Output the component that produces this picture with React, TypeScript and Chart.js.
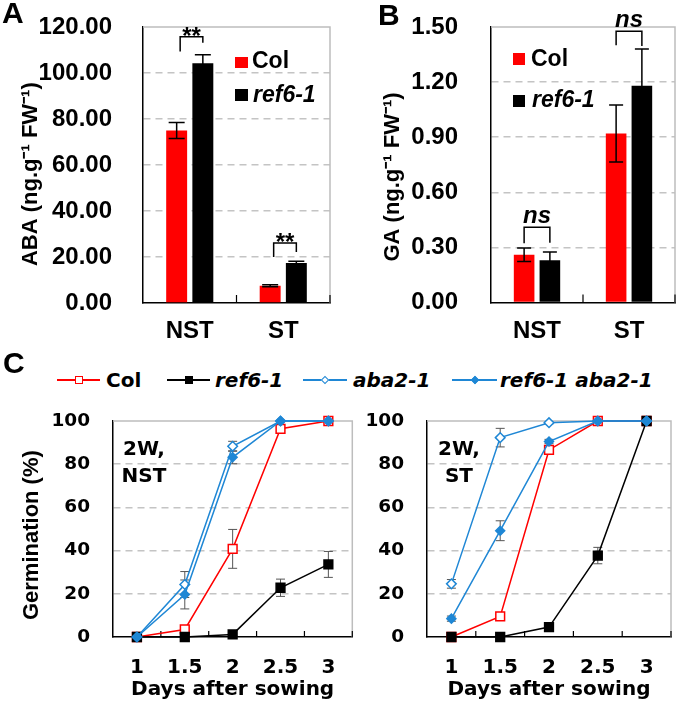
import React, { useEffect, useRef } from 'react';
import { Chart, registerables } from 'chart.js';

Chart.register(...registerables);

const SANS = '"Liberation Sans", Arial, Helvetica, sans-serif';
const WIDE = '"DejaVu Sans", Verdana, sans-serif';
const RED = '#ff0000';
const BLACK = '#000000';
const BLUE = '#1f87d5';
const GRID = '#c4c4c4';
const FRAME = '#bdbdbd';
const CLEAR = 'rgba(0,0,0,0)';

// ---------- Panel A : ABA ----------
const hormoneCategories = ['NST', 'ST'];
const abaCol = [75.0, 7.5];
const abaColErr = [3.5, 0.4];
const abaRef6 = [104.2, 17.4];
const abaRef6Err = [3.7, 0.7];
const abaMax = 120;
const abaStep = 20;
// significance brackets: category, bracket top, left leg end, right leg end (data units)
const abaBracketCat = [0, 1];
const abaBracketTop = [115.8, 26.1];
const abaBracketLeft = [109.3, 20.0];
const abaBracketRight = [113.2, 22.2];
const abaBracketLabel = ['**', '**'];

// ---------- Panel B : GA ----------
const gaCol = [0.26, 0.92];
const gaColErr = [0.037, 0.155];
const gaRef6 = [0.23, 1.18];
const gaRef6Err = [0.045, 0.2];
const gaMax = 1.5;
const gaStep = 0.3;
const gaBracketCat = [0, 1];
const gaBracketTop = [0.41, 1.477];
const gaBracketLeft = [0.323, 1.4];
const gaBracketRight = [0.325, 1.396];
const gaBracketLabel = ['ns', 'ns'];

// ---------- Panel C : germination ----------
const days = ['1', '1.5', '2', '2.5', '3'];
// 2W, NST
const nstCol = [0, 3.5, 40.8, 96.4, 100];
const nstColErr = [0, 1, 9, 2, 0];
const nstRef6 = [0, 0, 1.2, 22.8, 33.6];
const nstRef6Err = [0, 0, 0.5, 4, 6];
const nstAba2 = [0, 24.3, 88.3, 100, 100];
const nstAba2Err = [0, 6, 2.3, 0, 0];
const nstDouble = [0, 19.7, 83.2, 100, 100];
const nstDoubleErr = [0, 6.7, 3, 0, 0];
// 2W, ST
const stCol = [0, 9.5, 86.6, 100, 100];
const stColErr = [0, 1, 1, 0, 0];
const stRef6 = [0, 0, 4.6, 37.7, 100];
const stRef6Err = [0, 0, 0.5, 3.8, 0];
const stAba2 = [24.6, 92.3, 99.2, 100, 100];
const stAba2Err = [2, 4.3, 0.5, 0, 0];
const stDouble = [8.5, 49.2, 90.5, 100, 100];
const stDoubleErr = [1.2, 4.6, 1, 0, 0];
const germMax = 100;
const germStep = 20;

// ---------- plugins ----------
function drawErrors(chart: any) {
  const ctx = chart.ctx;
  const y = chart.scales.y;
  chart.data.datasets.forEach((ds: any, di: number) => {
    const errs = ds.errors;
    if (!errs) return;
    const meta = chart.getDatasetMeta(di);
    ctx.save();
    ctx.strokeStyle = ds.errColor || BLACK;
    ctx.lineWidth = ds.errWidth || 1.5;
    ctx.setLineDash([]);
    meta.data.forEach((el: any, i: number) => {
      const e = errs[i];
      if (!e) return;
      const v = ds.data[i];
      const x = el.x;
      const y1 = y.getPixelForValue(v + e);
      const y2 = y.getPixelForValue(v - e);
      const c = (ds.errCap || 10) / 2;
      ctx.beginPath();
      ctx.moveTo(x, y1);
      ctx.lineTo(x, y2);
      ctx.moveTo(x - c, y1);
      ctx.lineTo(x + c, y1);
      ctx.moveTo(x - c, y2);
      ctx.lineTo(x + c, y2);
      ctx.stroke();
    });
    ctx.restore();
  });
}

const errorBarPlugin = {
  id: 'errorBars',
  beforeDatasetsDraw(chart: any, _a: any, opts: any) {
    if (opts && opts.layer === 'before') drawErrors(chart);
  },
  afterDatasetsDraw(chart: any, _a: any, opts: any) {
    if (!opts || opts.layer !== 'before') drawErrors(chart);
  },
};

const bracketPlugin = {
  id: 'brackets',
  afterDatasetsDraw(chart: any, _a: any, opts: any) {
    if (!opts || !opts.cats) return;
    const ctx = chart.ctx;
    const y = chart.scales.y;
    const m0 = chart.getDatasetMeta(0);
    const m1 = chart.getDatasetMeta(1);
    opts.cats.forEach((cat: number, k: number) => {
      const xl = m0.data[cat].x + opts.leftShift;
      const xr = m1.data[cat].x;
      const yt = y.getPixelForValue(opts.tops[k]);
      ctx.save();
      ctx.strokeStyle = BLACK;
      ctx.lineWidth = 1.5;
      ctx.setLineDash([]);
      ctx.beginPath();
      ctx.moveTo(xl, y.getPixelForValue(opts.lefts[k]));
      ctx.lineTo(xl, yt);
      ctx.lineTo(xr, yt);
      ctx.lineTo(xr, y.getPixelForValue(opts.rights[k]));
      ctx.stroke();
      ctx.font = opts.font;
      ctx.textAlign = 'center';
      ctx.textBaseline = 'alphabetic';
      ctx.fillStyle = BLACK;
      ctx.fillText(opts.labels[k], (xl + xr) / 2, yt + opts.textOffset);
      ctx.restore();
    });
  },
};

const framePlugin = {
  id: 'frame',
  beforeDatasetsDraw(chart: any, _a: any, opts: any) {
    const { left, right, top, bottom } = chart.chartArea;
    const ctx = chart.ctx;
    ctx.save();
    ctx.setLineDash([]);
    ctx.strokeStyle = FRAME;
    ctx.lineWidth = 1.5;
    ctx.beginPath();
    ctx.moveTo(left, top);
    ctx.lineTo(right, top);
    ctx.lineTo(right, bottom);
    ctx.stroke();
    const xs = chart.scales.x;
    const n = chart.data.labels.length;
    ctx.strokeStyle = BLACK;
    ctx.lineWidth = 1.2;
    ctx.beginPath();
    for (let i = 1; i <= n; i++) {
      const px = xs.getPixelForValue(i - 0.5);
      ctx.moveTo(px, bottom);
      ctx.lineTo(px, bottom - (opts.tick || 7));
    }
    ctx.stroke();
    ctx.restore();
  },
};

// ---------- configs ----------
function barConfig(o: any) {
  return {
    type: 'bar',
    data: {
      labels: hormoneCategories,
      datasets: [
        {
          label: 'Col', data: o.col, backgroundColor: RED, errors: o.colErr,
          errCap: o.cap, errWidth: 1.5, errColor: BLACK,
          categoryPercentage: 0.56, barPercentage: 0.8,
        },
        {
          label: 'ref6-1', data: o.ref, backgroundColor: BLACK, errors: o.refErr,
          errCap: o.cap, errWidth: 1.5, errColor: BLACK,
          categoryPercentage: 0.56, barPercentage: 0.8,
        },
      ],
    },
    options: {
      responsive: false,
      animation: false,
      devicePixelRatio: 1,
      events: [],
      layout: { padding: { top: 27, right: o.padRight, left: 0, bottom: 0 } },
      plugins: {
        legend: { display: false },
        tooltip: { enabled: false },
        brackets: o.brackets,
        frame: { tick: 8 },
        errorBars: { layer: 'after' },
      },
      scales: {
        x: {
          grid: { display: false, drawTicks: false },
          border: { display: true, color: BLACK, width: 1.5 },
          ticks: { color: BLACK, font: { family: SANS, size: 24, weight: 'bold' }, padding: 14 },
          afterFit: (s: any) => { s.height = o.xh; },
        },
        y: {
          min: 0,
          max: o.max,
          ticks: {
            stepSize: o.step,
            callback: (v: any) => Number(v).toFixed(2),
            color: BLACK,
            font: { family: SANS, size: 24, weight: 'bold' },
            padding: 3,
          },
          grid: {
            drawTicks: true,
            tickLength: o.tickPad - 3,
            tickColor: CLEAR,
            lineWidth: 1.5,
            color: (c: any) => (c.tick && (Math.abs(c.tick.value) < 1e-6 || Math.abs(c.tick.value - o.max) < 1e-6) ? CLEAR : GRID),
          },
          border: { display: true, color: BLACK, width: 1.5, dash: [7, 5] },
          title: {
            display: true, text: o.title, color: BLACK,
            font: { family: SANS, size: 22, weight: 'bold' },
            padding: { top: o.titlePad, bottom: 0 },
          },
          afterFit: (s: any) => { s.width = o.yw; },
        },
      },
    },
    plugins: [errorBarPlugin, bracketPlugin, framePlugin],
  };
}

function lineConfig(o: any) {
  const mk = (label: string, data: number[], err: number[], color: string, fill: string, style: string, radius: number, order: number) => ({
    label, data, errors: err, order,
    borderColor: color, backgroundColor: fill,
    pointBackgroundColor: fill, pointBorderColor: color,
    pointStyle: style, pointRadius: radius, pointBorderWidth: 1.5,
    borderWidth: 1.5, tension: 0, clip: false,
    errCap: 9, errWidth: 1, errColor: '#555555',
  });
  return {
    type: 'line',
    data: {
      labels: days,
      datasets: [
        mk('Col', o.col, o.colErr, RED, '#ffffff', 'rect', 6.2, 4),
        mk('ref6-1', o.ref, o.refErr, BLACK, BLACK, 'rect', 6.2, 3),
        mk('aba2-1', o.aba, o.abaErr, BLUE, '#ffffff', 'rectRot', 4.8, 2),
        mk('ref6-1 aba2-1', o.dbl, o.dblErr, BLUE, BLUE, 'rectRot', 4.5, 1),
      ],
    },
    options: {
      responsive: false,
      animation: false,
      devicePixelRatio: 1,
      events: [],
      layout: { padding: { top: 26, right: o.padRight, left: 0, bottom: 0 } },
      plugins: {
        legend: { display: false },
        tooltip: { enabled: false },
        frame: { tick: 6 },
        errorBars: { layer: 'before' },
      },
      scales: {
        x: {
          offset: true,
          grid: { display: false, drawTicks: false, offset: true },
          border: { display: true, color: BLACK, width: 1.5 },
          ticks: { color: BLACK, font: { family: WIDE, size: 20, weight: 'bold' }, padding: 19 },
          title: {
            display: true, text: 'Days after sowing', color: BLACK,
            font: { family: WIDE, size: 20, weight: 'bold' },
            padding: { top: 0, bottom: 5 },
          },
          afterFit: (s: any) => { s.height = 70; },
        },
        y: {
          min: 0,
          max: germMax,
          ticks: {
            stepSize: germStep,
            color: BLACK,
            font: { family: WIDE, size: 18.5, weight: 'bold' },
            padding: 3,
          },
          grid: {
            drawTicks: true,
            tickLength: 20,
            tickColor: CLEAR,
            lineWidth: 1.5,
            color: (c: any) => (c.tick && (c.tick.value === 0 || c.tick.value === germMax) ? CLEAR : GRID),
          },
          border: { display: true, color: BLACK, width: 1.5, dash: [7, 5] },
          title: {
            display: o.showTitle, text: 'Germination (%)  ', color: BLACK,
            font: { family: SANS, size: 22, weight: 'bold' },
            padding: { top: 18.5, bottom: 0 },
          },
          afterFit: (s: any) => { s.width = o.yw; },
        },
      },
    },
    plugins: [errorBarPlugin, framePlugin],
  };
}

function ChartCanvas({ left, top, width, height, make }: any) {
  const ref = useRef<HTMLCanvasElement | null>(null);
  useEffect(() => {
    const chart = new Chart(ref.current as HTMLCanvasElement, make() as any);
    return () => chart.destroy();
  }, []);
  return (
    <canvas
      ref={ref}
      width={width}
      height={height}
      style={{ position: 'absolute', left, top, width, height }}
    />
  );
}

const textStyle = (left: number, baseline: number, size: number, family: string, extra: any = {}) => ({
  position: 'absolute' as const,
  left,
  top: baseline - 0.846 * size,
  fontSize: size,
  lineHeight: `${size}px`,
  fontFamily: family,
  fontWeight: 'bold' as const,
  whiteSpace: 'nowrap' as const,
  color: BLACK,
  ...extra,
});

function Swatch({ left, top, w, h, color }: any) {
  return <div style={{ position: 'absolute', left, top, width: w, height: h, background: color }} />;
}

function LegendLine({ x1, x2, y, color, marker }: any) {
  const mx = (x1 + x2) / 2;
  let m: any = null;
  if (marker === 'openSquare' || marker === 'square') {
    const s = 8;
    m = (
      <div style={{
        position: 'absolute', left: mx - s / 2, top: y - s / 2, width: s, height: s, boxSizing: 'border-box',
        border: `1.5px solid ${color}`, background: marker === 'square' ? color : '#fff',
      }} />
    );
  } else {
    const s = 6;
    m = (
      <div style={{
        position: 'absolute', left: mx - s / 2, top: y - s / 2, width: s, height: s, boxSizing: 'border-box',
        border: `1.5px solid ${color}`, background: marker === 'diamond' ? color : '#fff', transform: 'rotate(45deg)',
      }} />
    );
  }
  return (
    <>
      <div style={{ position: 'absolute', left: x1, top: y - 1, width: x2 - x1, height: 2, background: color }} />
      {m}
    </>
  );
}

export default function App() {
  return (
    <div style={{ position: 'absolute', left: 0, top: 0, width: 681, height: 707, background: '#fff', overflow: 'hidden' }}>
      <ChartCanvas
        left={0} top={0} width={340} height={350}
        make={() => barConfig({
          col: abaCol, colErr: abaColErr, ref: abaRef6, refErr: abaRef6Err, cap: 16,
          max: abaMax, step: abaStep, padRight: 10, xh: 47, yw: 143, tickPad: 31, titlePad: 18,
          title: 'ABA (ng.g⁻¹ FW⁻¹)   ',
          brackets: {
            cats: abaBracketCat, tops: abaBracketTop, lefts: abaBracketLeft, rights: abaBracketRight,
            labels: abaBracketLabel, leftShift: 3.5, textOffset: 7, font: `bold 24px ${SANS}`,
          },
        })}
      />
      <ChartCanvas
        left={340} top={0} width={341} height={350}
        make={() => barConfig({
          col: gaCol, colErr: gaColErr, ref: gaRef6, refErr: gaRef6Err, cap: 14,
          max: gaMax, step: gaStep, padRight: 6, xh: 47.5, yw: 151, tickPad: 33, titlePad: 40,
          title: 'GA (ng.g⁻¹ FW⁻¹)    ',
          brackets: {
            cats: gaBracketCat, tops: gaBracketTop, lefts: gaBracketLeft, rights: gaBracketRight,
            labels: gaBracketLabel, leftShift: 0, textOffset: -4, font: `italic bold 24px ${SANS}`,
          },
        })}
      />
      <ChartCanvas
        left={0} top={395} width={360} height={312}
        make={() => lineConfig({
          col: nstCol, colErr: nstColErr, ref: nstRef6, refErr: nstRef6Err,
          aba: nstAba2, abaErr: nstAba2Err, dbl: nstDouble, dblErr: nstDoubleErr,
          padRight: 3, yw: 113, showTitle: true,
        })}
      />
      <ChartCanvas
        left={360} top={395} width={321} height={312}
        make={() => lineConfig({
          col: stCol, colErr: stColErr, ref: stRef6, refErr: stRef6Err,
          aba: stAba2, abaErr: stAba2Err, dbl: stDouble, dblErr: stDoubleErr,
          padRight: 10, yw: 67, showTitle: false,
        })}
      />

      {/* panel letters */}
      <div style={textStyle(2, 23, 30, SANS)}>A</div>
      <div style={textStyle(378, 25, 30, SANS)}>B</div>
      <div style={textStyle(3, 373, 30, SANS)}>C</div>

      {/* legend A */}
      <Swatch left={235} top={57} w={13} h={11} color={RED} />
      <div style={textStyle(252, 68, 23, SANS)}>Col</div>
      <Swatch left={235} top={89} w={13} h={12} color={BLACK} />
      <div style={textStyle(253, 102, 23, SANS, { fontStyle: 'italic' })}>ref6-1</div>

      {/* legend B */}
      <Swatch left={513} top={53} w={12} h={12} color={RED} />
      <div style={textStyle(531, 66, 23, SANS)}>Col</div>
      <Swatch left={513} top={95} w={12} h={12} color={BLACK} />
      <div style={textStyle(532, 107, 23, SANS, { fontStyle: 'italic' })}>ref6-1</div>

      {/* legend C */}
      <LegendLine x1={57} x2={100} y={380} color={RED} marker="openSquare" />
      <div style={textStyle(106, 387.3, 20, WIDE)}>Col</div>
      <LegendLine x1={167} x2={210} y={380} color={BLACK} marker="square" />
      <div style={textStyle(215, 387.3, 20, WIDE, { fontStyle: 'italic' })}>ref6-1</div>
      <LegendLine x1={303} x2={347} y={380} color={BLUE} marker="openDiamond" />
      <div style={textStyle(353, 387.3, 20, WIDE, { fontStyle: 'italic' })}>aba2-1</div>
      <LegendLine x1={452} x2={497} y={380} color={BLUE} marker="diamond" />
      <div style={textStyle(500, 387.3, 20, WIDE, { fontStyle: 'italic' })}>ref6-1 aba2-1</div>

      {/* in-plot condition labels */}
      <div style={{
        position: 'absolute', left: 104, top: 434.6, width: 80, textAlign: 'center',
        fontFamily: WIDE, fontWeight: 'bold', fontSize: 20, lineHeight: '27px', color: BLACK,
      }}>2W,<br />NST</div>
      <div style={{
        position: 'absolute', left: 419, top: 434.6, width: 80, textAlign: 'center',
        fontFamily: WIDE, fontWeight: 'bold', fontSize: 20, lineHeight: '27.5px', color: BLACK,
      }}>2W,<br />ST</div>
    </div>
  );
}
